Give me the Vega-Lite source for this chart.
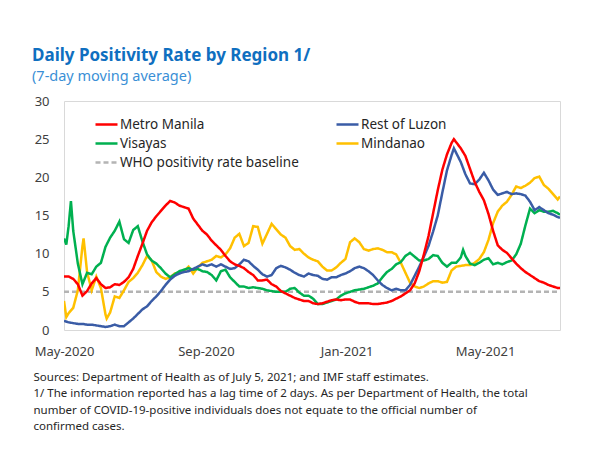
{
  "$schema": "https://vega.github.io/schema/vega-lite/v6.json",
  "width": 496,
  "height": 229,
  "autosize": {"type": "none"},
  "padding": {"left": 64, "top": 101, "right": 33, "bottom": 126},
  "background": "white",
  "title": {
    "text": "Daily Positivity Rate by Region 1/",
    "subtitle": "(7-day moving average)",
    "anchor": "start",
    "frame": "group",
    "dx": -32,
    "offset": 11,
    "font": "Noto Sans",
    "fontSize": 17,
    "fontWeight": "bold",
    "color": "#0f6fc0",
    "subtitleFont": "Noto Sans",
    "subtitleFontSize": 14.5,
    "subtitleColor": "#3a8fd6",
    "subtitlePadding": 5
  },
  "config": {
    "view": {"stroke": "#d9d9d9", "strokeWidth": 1},
    "font": "Noto Sans"
  },
  "data": {
    "values": [
      {"date": "2020-05-01", "region": "WHO positivity rate baseline", "value": 5},
      {"date": "2021-07-05", "region": "WHO positivity rate baseline", "value": 5},

      {"date": "2020-05-01", "region": "Mindanao", "value": 3.8},
      {"date": "2020-05-03", "region": "Mindanao", "value": 1.7},
      {"date": "2020-05-05", "region": "Mindanao", "value": 2.2},
      {"date": "2020-05-09", "region": "Mindanao", "value": 2.9},
      {"date": "2020-05-13", "region": "Mindanao", "value": 5.2},
      {"date": "2020-05-17", "region": "Mindanao", "value": 11.0},
      {"date": "2020-05-18", "region": "Mindanao", "value": 12.0},
      {"date": "2020-05-21", "region": "Mindanao", "value": 7.6},
      {"date": "2020-05-25", "region": "Mindanao", "value": 5.2},
      {"date": "2020-05-29", "region": "Mindanao", "value": 7.0},
      {"date": "2020-06-02", "region": "Mindanao", "value": 5.5},
      {"date": "2020-06-06", "region": "Mindanao", "value": 2.0},
      {"date": "2020-06-07", "region": "Mindanao", "value": 1.5},
      {"date": "2020-06-10", "region": "Mindanao", "value": 2.3},
      {"date": "2020-06-14", "region": "Mindanao", "value": 4.4},
      {"date": "2020-06-18", "region": "Mindanao", "value": 4.2},
      {"date": "2020-06-22", "region": "Mindanao", "value": 5.2},
      {"date": "2020-06-26", "region": "Mindanao", "value": 6.3},
      {"date": "2020-06-30", "region": "Mindanao", "value": 6.8},
      {"date": "2020-07-04", "region": "Mindanao", "value": 7.5},
      {"date": "2020-07-08", "region": "Mindanao", "value": 8.5},
      {"date": "2020-07-12", "region": "Mindanao", "value": 9.7},
      {"date": "2020-07-16", "region": "Mindanao", "value": 9.1},
      {"date": "2020-07-20", "region": "Mindanao", "value": 7.6},
      {"date": "2020-07-24", "region": "Mindanao", "value": 7.0},
      {"date": "2020-07-28", "region": "Mindanao", "value": 6.7},
      {"date": "2020-08-01", "region": "Mindanao", "value": 6.9},
      {"date": "2020-08-05", "region": "Mindanao", "value": 7.4},
      {"date": "2020-08-09", "region": "Mindanao", "value": 7.5},
      {"date": "2020-08-13", "region": "Mindanao", "value": 7.7},
      {"date": "2020-08-17", "region": "Mindanao", "value": 8.3},
      {"date": "2020-08-21", "region": "Mindanao", "value": 7.4},
      {"date": "2020-08-25", "region": "Mindanao", "value": 8.2},
      {"date": "2020-08-29", "region": "Mindanao", "value": 8.8},
      {"date": "2020-09-02", "region": "Mindanao", "value": 9.0},
      {"date": "2020-09-06", "region": "Mindanao", "value": 9.2},
      {"date": "2020-09-10", "region": "Mindanao", "value": 9.7},
      {"date": "2020-09-14", "region": "Mindanao", "value": 9.5},
      {"date": "2020-09-18", "region": "Mindanao", "value": 9.9},
      {"date": "2020-09-22", "region": "Mindanao", "value": 10.7},
      {"date": "2020-09-26", "region": "Mindanao", "value": 12.1},
      {"date": "2020-09-30", "region": "Mindanao", "value": 12.6},
      {"date": "2020-10-04", "region": "Mindanao", "value": 11.0},
      {"date": "2020-10-08", "region": "Mindanao", "value": 11.4},
      {"date": "2020-10-12", "region": "Mindanao", "value": 13.6},
      {"date": "2020-10-16", "region": "Mindanao", "value": 13.5},
      {"date": "2020-10-20", "region": "Mindanao", "value": 11.3},
      {"date": "2020-10-24", "region": "Mindanao", "value": 12.6},
      {"date": "2020-10-28", "region": "Mindanao", "value": 13.9},
      {"date": "2020-11-01", "region": "Mindanao", "value": 13.2},
      {"date": "2020-11-05", "region": "Mindanao", "value": 12.5},
      {"date": "2020-11-09", "region": "Mindanao", "value": 12.1},
      {"date": "2020-11-13", "region": "Mindanao", "value": 11.0},
      {"date": "2020-11-17", "region": "Mindanao", "value": 10.5},
      {"date": "2020-11-21", "region": "Mindanao", "value": 10.6},
      {"date": "2020-11-25", "region": "Mindanao", "value": 10.0},
      {"date": "2020-11-29", "region": "Mindanao", "value": 9.5},
      {"date": "2020-12-03", "region": "Mindanao", "value": 9.2},
      {"date": "2020-12-07", "region": "Mindanao", "value": 9.0},
      {"date": "2020-12-11", "region": "Mindanao", "value": 8.3},
      {"date": "2020-12-15", "region": "Mindanao", "value": 7.8},
      {"date": "2020-12-19", "region": "Mindanao", "value": 7.8},
      {"date": "2020-12-23", "region": "Mindanao", "value": 8.2},
      {"date": "2020-12-27", "region": "Mindanao", "value": 8.8},
      {"date": "2020-12-31", "region": "Mindanao", "value": 9.3},
      {"date": "2021-01-04", "region": "Mindanao", "value": 11.5},
      {"date": "2021-01-08", "region": "Mindanao", "value": 12.0},
      {"date": "2021-01-12", "region": "Mindanao", "value": 11.5},
      {"date": "2021-01-16", "region": "Mindanao", "value": 10.6},
      {"date": "2021-01-20", "region": "Mindanao", "value": 10.4},
      {"date": "2021-01-24", "region": "Mindanao", "value": 10.6},
      {"date": "2021-01-28", "region": "Mindanao", "value": 10.7},
      {"date": "2021-02-01", "region": "Mindanao", "value": 10.5},
      {"date": "2021-02-05", "region": "Mindanao", "value": 10.2},
      {"date": "2021-02-09", "region": "Mindanao", "value": 10.2},
      {"date": "2021-02-13", "region": "Mindanao", "value": 9.9},
      {"date": "2021-02-17", "region": "Mindanao", "value": 8.8},
      {"date": "2021-02-21", "region": "Mindanao", "value": 7.5},
      {"date": "2021-02-25", "region": "Mindanao", "value": 6.2},
      {"date": "2021-03-01", "region": "Mindanao", "value": 5.7},
      {"date": "2021-03-05", "region": "Mindanao", "value": 5.5},
      {"date": "2021-03-09", "region": "Mindanao", "value": 5.7},
      {"date": "2021-03-13", "region": "Mindanao", "value": 6.1},
      {"date": "2021-03-17", "region": "Mindanao", "value": 6.4},
      {"date": "2021-03-21", "region": "Mindanao", "value": 6.4},
      {"date": "2021-03-25", "region": "Mindanao", "value": 6.2},
      {"date": "2021-03-29", "region": "Mindanao", "value": 6.3},
      {"date": "2021-04-02", "region": "Mindanao", "value": 7.8},
      {"date": "2021-04-06", "region": "Mindanao", "value": 8.3},
      {"date": "2021-04-10", "region": "Mindanao", "value": 8.4},
      {"date": "2021-04-14", "region": "Mindanao", "value": 8.5},
      {"date": "2021-04-18", "region": "Mindanao", "value": 8.5},
      {"date": "2021-04-22", "region": "Mindanao", "value": 8.8},
      {"date": "2021-04-26", "region": "Mindanao", "value": 9.3},
      {"date": "2021-04-30", "region": "Mindanao", "value": 10.2},
      {"date": "2021-05-04", "region": "Mindanao", "value": 11.8},
      {"date": "2021-05-08", "region": "Mindanao", "value": 14.0},
      {"date": "2021-05-12", "region": "Mindanao", "value": 15.5},
      {"date": "2021-05-16", "region": "Mindanao", "value": 16.3},
      {"date": "2021-05-20", "region": "Mindanao", "value": 16.8},
      {"date": "2021-05-24", "region": "Mindanao", "value": 17.7},
      {"date": "2021-05-28", "region": "Mindanao", "value": 18.8},
      {"date": "2021-06-01", "region": "Mindanao", "value": 18.6},
      {"date": "2021-06-05", "region": "Mindanao", "value": 18.9},
      {"date": "2021-06-09", "region": "Mindanao", "value": 19.3},
      {"date": "2021-06-13", "region": "Mindanao", "value": 19.9},
      {"date": "2021-06-17", "region": "Mindanao", "value": 20.1},
      {"date": "2021-06-21", "region": "Mindanao", "value": 19.0},
      {"date": "2021-06-25", "region": "Mindanao", "value": 18.5},
      {"date": "2021-06-29", "region": "Mindanao", "value": 17.8},
      {"date": "2021-07-03", "region": "Mindanao", "value": 17.1},
      {"date": "2021-07-05", "region": "Mindanao", "value": 17.5},

      {"date": "2020-05-01", "region": "Visayas", "value": 12.0},
      {"date": "2020-05-03", "region": "Visayas", "value": 11.2},
      {"date": "2020-05-05", "region": "Visayas", "value": 13.6},
      {"date": "2020-05-07", "region": "Visayas", "value": 16.9},
      {"date": "2020-05-09", "region": "Visayas", "value": 13.0},
      {"date": "2020-05-13", "region": "Visayas", "value": 8.7},
      {"date": "2020-05-17", "region": "Visayas", "value": 6.0},
      {"date": "2020-05-21", "region": "Visayas", "value": 7.5},
      {"date": "2020-05-25", "region": "Visayas", "value": 7.3},
      {"date": "2020-05-29", "region": "Visayas", "value": 8.3},
      {"date": "2020-06-02", "region": "Visayas", "value": 8.8},
      {"date": "2020-06-06", "region": "Visayas", "value": 10.9},
      {"date": "2020-06-10", "region": "Visayas", "value": 12.1},
      {"date": "2020-06-14", "region": "Visayas", "value": 13.0},
      {"date": "2020-06-18", "region": "Visayas", "value": 14.2},
      {"date": "2020-06-22", "region": "Visayas", "value": 11.9},
      {"date": "2020-06-26", "region": "Visayas", "value": 11.4},
      {"date": "2020-06-30", "region": "Visayas", "value": 13.1},
      {"date": "2020-07-04", "region": "Visayas", "value": 13.6},
      {"date": "2020-07-08", "region": "Visayas", "value": 11.6},
      {"date": "2020-07-12", "region": "Visayas", "value": 9.9},
      {"date": "2020-07-16", "region": "Visayas", "value": 9.1},
      {"date": "2020-07-20", "region": "Visayas", "value": 8.7},
      {"date": "2020-07-24", "region": "Visayas", "value": 8.1},
      {"date": "2020-07-28", "region": "Visayas", "value": 7.4},
      {"date": "2020-08-01", "region": "Visayas", "value": 6.9},
      {"date": "2020-08-05", "region": "Visayas", "value": 7.3},
      {"date": "2020-08-09", "region": "Visayas", "value": 7.7},
      {"date": "2020-08-13", "region": "Visayas", "value": 7.9},
      {"date": "2020-08-17", "region": "Visayas", "value": 8.1},
      {"date": "2020-08-21", "region": "Visayas", "value": 7.9},
      {"date": "2020-08-25", "region": "Visayas", "value": 8.0},
      {"date": "2020-08-29", "region": "Visayas", "value": 7.7},
      {"date": "2020-09-02", "region": "Visayas", "value": 7.6},
      {"date": "2020-09-06", "region": "Visayas", "value": 7.2},
      {"date": "2020-09-10", "region": "Visayas", "value": 6.5},
      {"date": "2020-09-14", "region": "Visayas", "value": 7.7},
      {"date": "2020-09-18", "region": "Visayas", "value": 7.9},
      {"date": "2020-09-22", "region": "Visayas", "value": 6.9},
      {"date": "2020-09-26", "region": "Visayas", "value": 6.3},
      {"date": "2020-09-30", "region": "Visayas", "value": 5.7},
      {"date": "2020-10-04", "region": "Visayas", "value": 5.7},
      {"date": "2020-10-08", "region": "Visayas", "value": 5.5},
      {"date": "2020-10-12", "region": "Visayas", "value": 5.6},
      {"date": "2020-10-16", "region": "Visayas", "value": 5.5},
      {"date": "2020-10-20", "region": "Visayas", "value": 5.4},
      {"date": "2020-10-24", "region": "Visayas", "value": 5.2},
      {"date": "2020-10-28", "region": "Visayas", "value": 5.1},
      {"date": "2020-11-01", "region": "Visayas", "value": 5.0},
      {"date": "2020-11-05", "region": "Visayas", "value": 5.0},
      {"date": "2020-11-09", "region": "Visayas", "value": 5.0},
      {"date": "2020-11-13", "region": "Visayas", "value": 5.4},
      {"date": "2020-11-17", "region": "Visayas", "value": 5.5},
      {"date": "2020-11-21", "region": "Visayas", "value": 4.9},
      {"date": "2020-11-25", "region": "Visayas", "value": 4.5},
      {"date": "2020-11-29", "region": "Visayas", "value": 4.5},
      {"date": "2020-12-03", "region": "Visayas", "value": 4.1},
      {"date": "2020-12-07", "region": "Visayas", "value": 3.4},
      {"date": "2020-12-11", "region": "Visayas", "value": 3.4},
      {"date": "2020-12-15", "region": "Visayas", "value": 3.6},
      {"date": "2020-12-19", "region": "Visayas", "value": 3.8},
      {"date": "2020-12-23", "region": "Visayas", "value": 4.0},
      {"date": "2020-12-27", "region": "Visayas", "value": 4.5},
      {"date": "2020-12-31", "region": "Visayas", "value": 4.8},
      {"date": "2021-01-04", "region": "Visayas", "value": 5.0},
      {"date": "2021-01-08", "region": "Visayas", "value": 5.2},
      {"date": "2021-01-12", "region": "Visayas", "value": 5.3},
      {"date": "2021-01-16", "region": "Visayas", "value": 5.4},
      {"date": "2021-01-20", "region": "Visayas", "value": 5.6},
      {"date": "2021-01-24", "region": "Visayas", "value": 5.8},
      {"date": "2021-01-28", "region": "Visayas", "value": 6.1},
      {"date": "2021-02-01", "region": "Visayas", "value": 6.9},
      {"date": "2021-02-05", "region": "Visayas", "value": 7.6},
      {"date": "2021-02-09", "region": "Visayas", "value": 8.0},
      {"date": "2021-02-13", "region": "Visayas", "value": 8.6},
      {"date": "2021-02-17", "region": "Visayas", "value": 8.9},
      {"date": "2021-02-21", "region": "Visayas", "value": 9.7},
      {"date": "2021-02-25", "region": "Visayas", "value": 10.1},
      {"date": "2021-03-01", "region": "Visayas", "value": 9.6},
      {"date": "2021-03-05", "region": "Visayas", "value": 9.1},
      {"date": "2021-03-09", "region": "Visayas", "value": 9.1},
      {"date": "2021-03-13", "region": "Visayas", "value": 9.3},
      {"date": "2021-03-17", "region": "Visayas", "value": 9.8},
      {"date": "2021-03-21", "region": "Visayas", "value": 9.7},
      {"date": "2021-03-25", "region": "Visayas", "value": 8.8},
      {"date": "2021-03-29", "region": "Visayas", "value": 8.3},
      {"date": "2021-04-02", "region": "Visayas", "value": 8.8},
      {"date": "2021-04-06", "region": "Visayas", "value": 8.8},
      {"date": "2021-04-10", "region": "Visayas", "value": 9.5},
      {"date": "2021-04-12", "region": "Visayas", "value": 10.5},
      {"date": "2021-04-14", "region": "Visayas", "value": 9.7},
      {"date": "2021-04-18", "region": "Visayas", "value": 8.7},
      {"date": "2021-04-22", "region": "Visayas", "value": 8.5},
      {"date": "2021-04-26", "region": "Visayas", "value": 8.8},
      {"date": "2021-04-30", "region": "Visayas", "value": 9.2},
      {"date": "2021-05-04", "region": "Visayas", "value": 9.4},
      {"date": "2021-05-08", "region": "Visayas", "value": 8.6},
      {"date": "2021-05-12", "region": "Visayas", "value": 8.8},
      {"date": "2021-05-16", "region": "Visayas", "value": 8.6},
      {"date": "2021-05-20", "region": "Visayas", "value": 8.9},
      {"date": "2021-05-24", "region": "Visayas", "value": 9.1},
      {"date": "2021-05-28", "region": "Visayas", "value": 9.9},
      {"date": "2021-06-01", "region": "Visayas", "value": 11.3},
      {"date": "2021-06-05", "region": "Visayas", "value": 13.7},
      {"date": "2021-06-09", "region": "Visayas", "value": 15.9},
      {"date": "2021-06-13", "region": "Visayas", "value": 15.3},
      {"date": "2021-06-17", "region": "Visayas", "value": 15.7},
      {"date": "2021-06-21", "region": "Visayas", "value": 15.5},
      {"date": "2021-06-25", "region": "Visayas", "value": 15.5},
      {"date": "2021-06-29", "region": "Visayas", "value": 15.6},
      {"date": "2021-07-03", "region": "Visayas", "value": 15.3},
      {"date": "2021-07-05", "region": "Visayas", "value": 15.1},

      {"date": "2020-05-01", "region": "Rest of Luzon", "value": 1.2},
      {"date": "2020-05-05", "region": "Rest of Luzon", "value": 1.0},
      {"date": "2020-05-09", "region": "Rest of Luzon", "value": 0.9},
      {"date": "2020-05-13", "region": "Rest of Luzon", "value": 0.8},
      {"date": "2020-05-17", "region": "Rest of Luzon", "value": 0.8},
      {"date": "2020-05-21", "region": "Rest of Luzon", "value": 0.7},
      {"date": "2020-05-25", "region": "Rest of Luzon", "value": 0.7},
      {"date": "2020-05-29", "region": "Rest of Luzon", "value": 0.6},
      {"date": "2020-06-02", "region": "Rest of Luzon", "value": 0.5},
      {"date": "2020-06-06", "region": "Rest of Luzon", "value": 0.4},
      {"date": "2020-06-10", "region": "Rest of Luzon", "value": 0.5},
      {"date": "2020-06-14", "region": "Rest of Luzon", "value": 0.7},
      {"date": "2020-06-18", "region": "Rest of Luzon", "value": 0.5},
      {"date": "2020-06-22", "region": "Rest of Luzon", "value": 0.5},
      {"date": "2020-06-26", "region": "Rest of Luzon", "value": 1.0},
      {"date": "2020-06-30", "region": "Rest of Luzon", "value": 1.5},
      {"date": "2020-07-04", "region": "Rest of Luzon", "value": 2.1},
      {"date": "2020-07-08", "region": "Rest of Luzon", "value": 2.7},
      {"date": "2020-07-12", "region": "Rest of Luzon", "value": 3.1},
      {"date": "2020-07-16", "region": "Rest of Luzon", "value": 3.8},
      {"date": "2020-07-20", "region": "Rest of Luzon", "value": 4.4},
      {"date": "2020-07-24", "region": "Rest of Luzon", "value": 5.1},
      {"date": "2020-07-28", "region": "Rest of Luzon", "value": 5.9},
      {"date": "2020-08-01", "region": "Rest of Luzon", "value": 6.6},
      {"date": "2020-08-05", "region": "Rest of Luzon", "value": 7.1},
      {"date": "2020-08-09", "region": "Rest of Luzon", "value": 7.4},
      {"date": "2020-08-13", "region": "Rest of Luzon", "value": 7.6},
      {"date": "2020-08-17", "region": "Rest of Luzon", "value": 7.7},
      {"date": "2020-08-21", "region": "Rest of Luzon", "value": 8.0},
      {"date": "2020-08-25", "region": "Rest of Luzon", "value": 8.3},
      {"date": "2020-08-29", "region": "Rest of Luzon", "value": 8.6},
      {"date": "2020-09-02", "region": "Rest of Luzon", "value": 8.4},
      {"date": "2020-09-06", "region": "Rest of Luzon", "value": 8.6},
      {"date": "2020-09-10", "region": "Rest of Luzon", "value": 8.3},
      {"date": "2020-09-14", "region": "Rest of Luzon", "value": 8.6},
      {"date": "2020-09-18", "region": "Rest of Luzon", "value": 8.3},
      {"date": "2020-09-22", "region": "Rest of Luzon", "value": 8.0},
      {"date": "2020-09-26", "region": "Rest of Luzon", "value": 8.1},
      {"date": "2020-09-30", "region": "Rest of Luzon", "value": 8.6},
      {"date": "2020-10-04", "region": "Rest of Luzon", "value": 9.2},
      {"date": "2020-10-08", "region": "Rest of Luzon", "value": 9.0},
      {"date": "2020-10-12", "region": "Rest of Luzon", "value": 8.4},
      {"date": "2020-10-16", "region": "Rest of Luzon", "value": 7.9},
      {"date": "2020-10-20", "region": "Rest of Luzon", "value": 7.3},
      {"date": "2020-10-24", "region": "Rest of Luzon", "value": 7.0},
      {"date": "2020-10-28", "region": "Rest of Luzon", "value": 7.2},
      {"date": "2020-11-01", "region": "Rest of Luzon", "value": 8.1},
      {"date": "2020-11-05", "region": "Rest of Luzon", "value": 8.4},
      {"date": "2020-11-09", "region": "Rest of Luzon", "value": 8.2},
      {"date": "2020-11-13", "region": "Rest of Luzon", "value": 7.9},
      {"date": "2020-11-17", "region": "Rest of Luzon", "value": 7.5},
      {"date": "2020-11-21", "region": "Rest of Luzon", "value": 7.2},
      {"date": "2020-11-25", "region": "Rest of Luzon", "value": 7.0},
      {"date": "2020-11-29", "region": "Rest of Luzon", "value": 7.4},
      {"date": "2020-12-03", "region": "Rest of Luzon", "value": 7.2},
      {"date": "2020-12-07", "region": "Rest of Luzon", "value": 7.1},
      {"date": "2020-12-11", "region": "Rest of Luzon", "value": 6.7},
      {"date": "2020-12-15", "region": "Rest of Luzon", "value": 6.6},
      {"date": "2020-12-19", "region": "Rest of Luzon", "value": 6.9},
      {"date": "2020-12-23", "region": "Rest of Luzon", "value": 6.9},
      {"date": "2020-12-27", "region": "Rest of Luzon", "value": 7.2},
      {"date": "2020-12-31", "region": "Rest of Luzon", "value": 7.4},
      {"date": "2021-01-04", "region": "Rest of Luzon", "value": 7.7},
      {"date": "2021-01-08", "region": "Rest of Luzon", "value": 8.1},
      {"date": "2021-01-12", "region": "Rest of Luzon", "value": 8.3},
      {"date": "2021-01-16", "region": "Rest of Luzon", "value": 8.1},
      {"date": "2021-01-20", "region": "Rest of Luzon", "value": 7.7},
      {"date": "2021-01-24", "region": "Rest of Luzon", "value": 7.2},
      {"date": "2021-01-28", "region": "Rest of Luzon", "value": 6.5},
      {"date": "2021-02-01", "region": "Rest of Luzon", "value": 5.9},
      {"date": "2021-02-05", "region": "Rest of Luzon", "value": 5.5},
      {"date": "2021-02-09", "region": "Rest of Luzon", "value": 5.2},
      {"date": "2021-02-13", "region": "Rest of Luzon", "value": 5.4},
      {"date": "2021-02-17", "region": "Rest of Luzon", "value": 5.2},
      {"date": "2021-02-21", "region": "Rest of Luzon", "value": 5.2},
      {"date": "2021-02-25", "region": "Rest of Luzon", "value": 5.9},
      {"date": "2021-03-01", "region": "Rest of Luzon", "value": 7.1},
      {"date": "2021-03-05", "region": "Rest of Luzon", "value": 8.3},
      {"date": "2021-03-09", "region": "Rest of Luzon", "value": 9.6},
      {"date": "2021-03-13", "region": "Rest of Luzon", "value": 11.0},
      {"date": "2021-03-17", "region": "Rest of Luzon", "value": 12.9},
      {"date": "2021-03-21", "region": "Rest of Luzon", "value": 15.0},
      {"date": "2021-03-25", "region": "Rest of Luzon", "value": 18.0},
      {"date": "2021-03-29", "region": "Rest of Luzon", "value": 20.9},
      {"date": "2021-04-02", "region": "Rest of Luzon", "value": 22.9},
      {"date": "2021-04-04", "region": "Rest of Luzon", "value": 23.8},
      {"date": "2021-04-06", "region": "Rest of Luzon", "value": 23.2},
      {"date": "2021-04-10", "region": "Rest of Luzon", "value": 22.0},
      {"date": "2021-04-14", "region": "Rest of Luzon", "value": 20.4},
      {"date": "2021-04-18", "region": "Rest of Luzon", "value": 19.2},
      {"date": "2021-04-22", "region": "Rest of Luzon", "value": 19.1},
      {"date": "2021-04-26", "region": "Rest of Luzon", "value": 19.7},
      {"date": "2021-04-30", "region": "Rest of Luzon", "value": 20.6},
      {"date": "2021-05-04", "region": "Rest of Luzon", "value": 19.6},
      {"date": "2021-05-08", "region": "Rest of Luzon", "value": 18.4},
      {"date": "2021-05-12", "region": "Rest of Luzon", "value": 17.7},
      {"date": "2021-05-16", "region": "Rest of Luzon", "value": 17.9},
      {"date": "2021-05-20", "region": "Rest of Luzon", "value": 18.1},
      {"date": "2021-05-24", "region": "Rest of Luzon", "value": 17.8},
      {"date": "2021-05-28", "region": "Rest of Luzon", "value": 17.9},
      {"date": "2021-06-01", "region": "Rest of Luzon", "value": 17.8},
      {"date": "2021-06-05", "region": "Rest of Luzon", "value": 17.6},
      {"date": "2021-06-09", "region": "Rest of Luzon", "value": 16.8},
      {"date": "2021-06-13", "region": "Rest of Luzon", "value": 15.7},
      {"date": "2021-06-17", "region": "Rest of Luzon", "value": 16.1},
      {"date": "2021-06-21", "region": "Rest of Luzon", "value": 15.7},
      {"date": "2021-06-25", "region": "Rest of Luzon", "value": 15.3},
      {"date": "2021-06-29", "region": "Rest of Luzon", "value": 15.1},
      {"date": "2021-07-03", "region": "Rest of Luzon", "value": 14.8},
      {"date": "2021-07-05", "region": "Rest of Luzon", "value": 14.7},

      {"date": "2020-05-01", "region": "Metro Manila", "value": 7.0},
      {"date": "2020-05-05", "region": "Metro Manila", "value": 7.0},
      {"date": "2020-05-09", "region": "Metro Manila", "value": 6.7},
      {"date": "2020-05-13", "region": "Metro Manila", "value": 6.0},
      {"date": "2020-05-17", "region": "Metro Manila", "value": 4.5},
      {"date": "2020-05-21", "region": "Metro Manila", "value": 5.1},
      {"date": "2020-05-25", "region": "Metro Manila", "value": 6.1},
      {"date": "2020-05-29", "region": "Metro Manila", "value": 6.8},
      {"date": "2020-06-02", "region": "Metro Manila", "value": 6.0},
      {"date": "2020-06-06", "region": "Metro Manila", "value": 5.5},
      {"date": "2020-06-10", "region": "Metro Manila", "value": 5.6},
      {"date": "2020-06-14", "region": "Metro Manila", "value": 6.0},
      {"date": "2020-06-18", "region": "Metro Manila", "value": 5.9},
      {"date": "2020-06-22", "region": "Metro Manila", "value": 6.3},
      {"date": "2020-06-26", "region": "Metro Manila", "value": 6.9},
      {"date": "2020-06-30", "region": "Metro Manila", "value": 8.0},
      {"date": "2020-07-04", "region": "Metro Manila", "value": 9.7},
      {"date": "2020-07-08", "region": "Metro Manila", "value": 11.3},
      {"date": "2020-07-12", "region": "Metro Manila", "value": 13.0},
      {"date": "2020-07-16", "region": "Metro Manila", "value": 14.1},
      {"date": "2020-07-20", "region": "Metro Manila", "value": 14.9},
      {"date": "2020-07-24", "region": "Metro Manila", "value": 15.6},
      {"date": "2020-07-28", "region": "Metro Manila", "value": 16.3},
      {"date": "2020-08-01", "region": "Metro Manila", "value": 16.9},
      {"date": "2020-08-05", "region": "Metro Manila", "value": 16.7},
      {"date": "2020-08-09", "region": "Metro Manila", "value": 16.3},
      {"date": "2020-08-13", "region": "Metro Manila", "value": 16.1},
      {"date": "2020-08-17", "region": "Metro Manila", "value": 15.9},
      {"date": "2020-08-21", "region": "Metro Manila", "value": 14.6},
      {"date": "2020-08-25", "region": "Metro Manila", "value": 13.8},
      {"date": "2020-08-29", "region": "Metro Manila", "value": 13.0},
      {"date": "2020-09-02", "region": "Metro Manila", "value": 12.5},
      {"date": "2020-09-06", "region": "Metro Manila", "value": 11.7},
      {"date": "2020-09-10", "region": "Metro Manila", "value": 11.1},
      {"date": "2020-09-14", "region": "Metro Manila", "value": 10.5},
      {"date": "2020-09-18", "region": "Metro Manila", "value": 9.7},
      {"date": "2020-09-22", "region": "Metro Manila", "value": 9.0},
      {"date": "2020-09-26", "region": "Metro Manila", "value": 8.6},
      {"date": "2020-09-30", "region": "Metro Manila", "value": 8.4},
      {"date": "2020-10-04", "region": "Metro Manila", "value": 8.1},
      {"date": "2020-10-08", "region": "Metro Manila", "value": 7.6},
      {"date": "2020-10-12", "region": "Metro Manila", "value": 7.2},
      {"date": "2020-10-16", "region": "Metro Manila", "value": 6.5},
      {"date": "2020-10-20", "region": "Metro Manila", "value": 6.5},
      {"date": "2020-10-24", "region": "Metro Manila", "value": 6.6},
      {"date": "2020-10-28", "region": "Metro Manila", "value": 6.0},
      {"date": "2020-11-01", "region": "Metro Manila", "value": 5.7},
      {"date": "2020-11-05", "region": "Metro Manila", "value": 5.1},
      {"date": "2020-11-09", "region": "Metro Manila", "value": 4.8},
      {"date": "2020-11-13", "region": "Metro Manila", "value": 4.5},
      {"date": "2020-11-17", "region": "Metro Manila", "value": 4.2},
      {"date": "2020-11-21", "region": "Metro Manila", "value": 4.0},
      {"date": "2020-11-25", "region": "Metro Manila", "value": 3.8},
      {"date": "2020-11-29", "region": "Metro Manila", "value": 3.8},
      {"date": "2020-12-03", "region": "Metro Manila", "value": 3.5},
      {"date": "2020-12-07", "region": "Metro Manila", "value": 3.4},
      {"date": "2020-12-11", "region": "Metro Manila", "value": 3.5},
      {"date": "2020-12-15", "region": "Metro Manila", "value": 3.7},
      {"date": "2020-12-19", "region": "Metro Manila", "value": 3.9},
      {"date": "2020-12-23", "region": "Metro Manila", "value": 4.0},
      {"date": "2020-12-27", "region": "Metro Manila", "value": 3.9},
      {"date": "2020-12-31", "region": "Metro Manila", "value": 4.0},
      {"date": "2021-01-04", "region": "Metro Manila", "value": 4.0},
      {"date": "2021-01-08", "region": "Metro Manila", "value": 3.7},
      {"date": "2021-01-12", "region": "Metro Manila", "value": 3.5},
      {"date": "2021-01-16", "region": "Metro Manila", "value": 3.5},
      {"date": "2021-01-20", "region": "Metro Manila", "value": 3.5},
      {"date": "2021-01-24", "region": "Metro Manila", "value": 3.4},
      {"date": "2021-01-28", "region": "Metro Manila", "value": 3.4},
      {"date": "2021-02-01", "region": "Metro Manila", "value": 3.5},
      {"date": "2021-02-05", "region": "Metro Manila", "value": 3.6},
      {"date": "2021-02-09", "region": "Metro Manila", "value": 3.8},
      {"date": "2021-02-13", "region": "Metro Manila", "value": 4.1},
      {"date": "2021-02-17", "region": "Metro Manila", "value": 4.4},
      {"date": "2021-02-21", "region": "Metro Manila", "value": 4.8},
      {"date": "2021-02-25", "region": "Metro Manila", "value": 5.2},
      {"date": "2021-03-01", "region": "Metro Manila", "value": 6.1},
      {"date": "2021-03-05", "region": "Metro Manila", "value": 7.7},
      {"date": "2021-03-09", "region": "Metro Manila", "value": 9.9},
      {"date": "2021-03-13", "region": "Metro Manila", "value": 12.3},
      {"date": "2021-03-17", "region": "Metro Manila", "value": 15.3},
      {"date": "2021-03-21", "region": "Metro Manila", "value": 18.3},
      {"date": "2021-03-25", "region": "Metro Manila", "value": 21.0},
      {"date": "2021-03-29", "region": "Metro Manila", "value": 23.0},
      {"date": "2021-04-02", "region": "Metro Manila", "value": 24.5},
      {"date": "2021-04-04", "region": "Metro Manila", "value": 25.0},
      {"date": "2021-04-06", "region": "Metro Manila", "value": 24.6},
      {"date": "2021-04-10", "region": "Metro Manila", "value": 23.8},
      {"date": "2021-04-14", "region": "Metro Manila", "value": 22.8},
      {"date": "2021-04-18", "region": "Metro Manila", "value": 21.1},
      {"date": "2021-04-22", "region": "Metro Manila", "value": 19.4},
      {"date": "2021-04-26", "region": "Metro Manila", "value": 18.1},
      {"date": "2021-04-30", "region": "Metro Manila", "value": 17.0},
      {"date": "2021-05-04", "region": "Metro Manila", "value": 15.2},
      {"date": "2021-05-08", "region": "Metro Manila", "value": 13.0},
      {"date": "2021-05-12", "region": "Metro Manila", "value": 11.1},
      {"date": "2021-05-16", "region": "Metro Manila", "value": 10.5},
      {"date": "2021-05-20", "region": "Metro Manila", "value": 10.1},
      {"date": "2021-05-24", "region": "Metro Manila", "value": 9.4},
      {"date": "2021-05-28", "region": "Metro Manila", "value": 8.7},
      {"date": "2021-06-01", "region": "Metro Manila", "value": 8.1},
      {"date": "2021-06-05", "region": "Metro Manila", "value": 7.6},
      {"date": "2021-06-09", "region": "Metro Manila", "value": 7.2},
      {"date": "2021-06-13", "region": "Metro Manila", "value": 6.8},
      {"date": "2021-06-17", "region": "Metro Manila", "value": 6.4},
      {"date": "2021-06-21", "region": "Metro Manila", "value": 6.2},
      {"date": "2021-06-25", "region": "Metro Manila", "value": 5.9},
      {"date": "2021-06-29", "region": "Metro Manila", "value": 5.7},
      {"date": "2021-07-03", "region": "Metro Manila", "value": 5.5},
      {"date": "2021-07-05", "region": "Metro Manila", "value": 5.5}
    ]
  },
  "mark": {"type": "line", "strokeWidth": 2.5, "clip": true},
  "encoding": {
    "x": {
      "field": "date",
      "type": "temporal",
      "scale": {
        "type": "utc",
        "domain": [
          {"year": 2020, "month": 5, "date": 1, "utc": true},
          {"year": 2021, "month": 7, "date": 5, "utc": true}
        ]
      },
      "axis": {
        "values": [
          {"year": 2020, "month": 5, "date": 1, "utc": true},
          {"year": 2020, "month": 9, "date": 1, "utc": true},
          {"year": 2021, "month": 1, "date": 1, "utc": true},
          {"year": 2021, "month": 5, "date": 1, "utc": true}
        ],
        "format": "%b-%Y",
        "grid": false,
        "domain": false,
        "ticks": false,
        "tickSize": 0,
        "labelPadding": 15,
        "labelFont": "Noto Sans",
        "labelFontSize": 13,
        "labelColor": "#404040",
        "labelFlush": false,
        "labelOverlap": false,
        "title": [
          "Sources: Department of Health as of July 5, 2021; and IMF staff estimates.",
          "1/ The information reported has a lag time of 2 days. As per Department of Health, the total",
          " number of COVID-19-positive individuals does not equate to the official number of",
          "confirmed cases."
        ],
        "titleFont": "Noto Sans",
        "titleFontSize": 11.5,
        "titleFontWeight": "normal",
        "titleColor": "#262626",
        "titleAnchor": "start",
        "titleAlign": "left",
        "titleBaseline": "top",
        "titleX": -31,
        "titleY": 41,
        "titleLineHeight": 16.5
      }
    },
    "y": {
      "field": "value",
      "type": "quantitative",
      "scale": {"domain": [0, 30], "nice": false, "zero": true},
      "axis": {
        "values": [0, 5, 10, 15, 20, 25, 30],
        "grid": false,
        "domain": false,
        "ticks": false,
        "tickSize": 0,
        "labelPadding": 15,
        "labelFont": "Noto Sans",
        "labelFontSize": 13,
        "labelColor": "#404040",
        "title": null
      }
    },
    "color": {
      "field": "region",
      "type": "nominal",
      "scale": {
        "domain": ["Metro Manila", "Visayas", "WHO positivity rate baseline", "Rest of Luzon", "Mindanao"],
        "range": ["#ff0000", "#00b050", "#b4b4b4", "#3a5ca6", "#ffc000"]
      },
      "legend": {
        "title": null,
        "orient": "none",
        "legendX": 30,
        "legendY": 11,
        "columns": 2,
        "columnPadding": 32,
        "rowPadding": -1,
        "symbolType": "stroke",
        "symbolSize": 484,
        "symbolStrokeWidth": 2.5,
        "symbolOffset": 0,
        "labelOffset": 1,
        "labelFont": "Noto Sans",
        "labelFontSize": 13.5,
        "labelColor": "#262626",
        "labelLimit": 300
      }
    },
    "strokeDash": {
      "field": "region",
      "type": "nominal",
      "scale": {
        "domain": ["Metro Manila", "Visayas", "WHO positivity rate baseline", "Rest of Luzon", "Mindanao"],
        "range": [[1, 0], [1, 0], [5, 3], [1, 0], [1, 0]]
      },
      "legend": {
        "title": null,
        "orient": "none",
        "legendX": 30,
        "legendY": 11,
        "columns": 2,
        "columnPadding": 32,
        "rowPadding": -1,
        "symbolType": "stroke",
        "symbolSize": 484,
        "symbolStrokeWidth": 2.5,
        "symbolOffset": 0,
        "labelOffset": 1,
        "labelFont": "Noto Sans",
        "labelFontSize": 13.5,
        "labelColor": "#262626",
        "labelLimit": 300
      }
    }
  }
}
